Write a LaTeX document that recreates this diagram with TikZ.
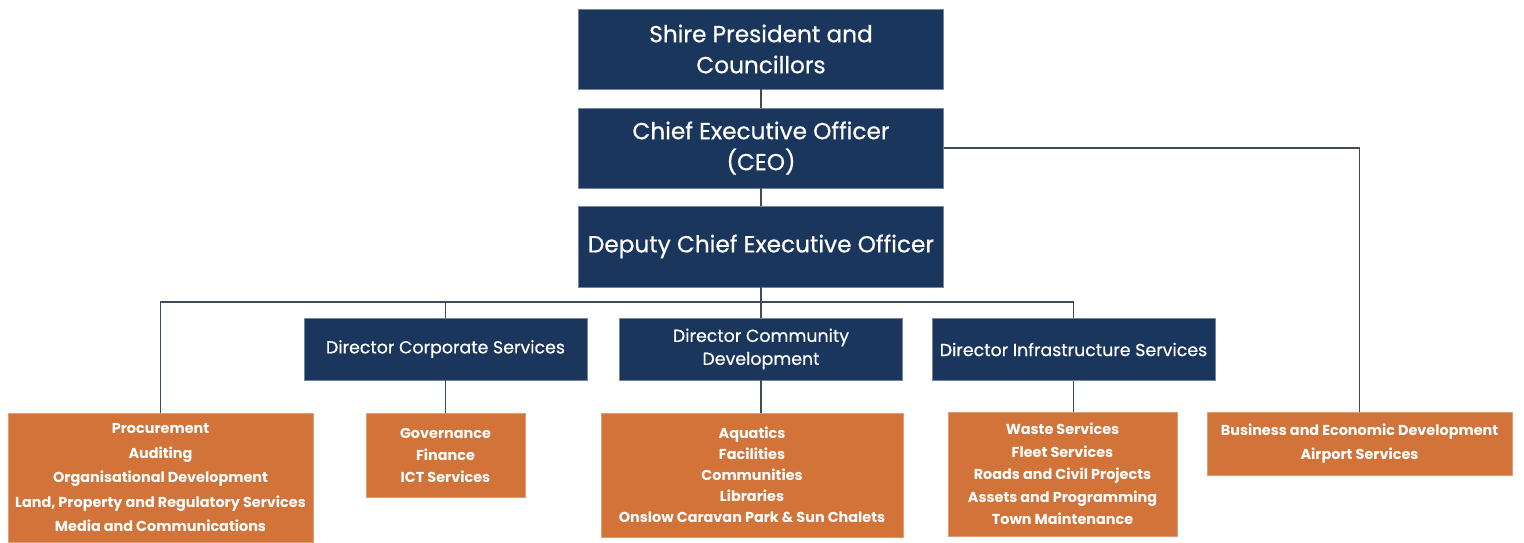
\documentclass[tikz,border=0pt]{standalone}
\usepackage{fontspec}
\setmainfont{Poppins}
\usetikzlibrary{positioning}
\definecolor{navy}{HTML}{1B365D}
\definecolor{rust}{HTML}{D2733A}
\definecolor{wire}{HTML}{3F4A5C}

\begin{document}
\begin{tikzpicture}[x=1pt, y=-1pt, semithick,
    box/.style={inner sep=0pt, text=white, align=center},
    head/.style={box, draw=navy!60!white, fill=navy, minimum width=365, minimum height=80, font=\addfontfeature{FakeBold=0.6}\fontsize{23.2}{31}\selectfont},
    dir/.style={box, draw=navy!60!white, fill=navy, minimum width=283, minimum height=62, font=\addfontfeature{FakeBold=0.5}\fontsize{17.4}{23}\selectfont},
    unit/.style={box, draw=rust!70!white, fill=rust, font=\bfseries\fontsize{14.4}{22}\selectfont},
    link/.style={draw=wire, line width=1.4pt}]
    \useasboundingbox (0,0) rectangle (1524,542);
    % top of the chart
    \node[head] (pres) at (761,49) {Shire President and\\Councillors};
    \node[head] (ceo) at (761,148) {Chief Executive Officer\\(CEO)};
    \node[head, minimum height=81] (dep) at (761,246.5) {Deputy Chief Executive Officer};
    \coordinate (bus) at (0,302);
    % directors
    \node[dir] (cor) at (445.5,349) {Director Corporate Services};
    \node[dir] (com) at (761,349) {Director Community\\Development};
    \node[dir] (inf) at (1073.5,349.5) {Director Infrastructure Services};
    % service units
    \node[unit, minimum width=305, minimum height=129, font=\bfseries\fontsize{14.4}{24.5}\selectfont] (proc) at (160.5,477.5)
        {Procurement\\Auditing\\Organisational Development\\Land, Property and Regulatory Services\\Media and Communications};
    \node[unit, minimum width=159, minimum height=84] (gov) at (445.5,455) {Governance\\Finance\\ICT Services};
    \node[unit, minimum width=302, minimum height=124, font=\bfseries\fontsize{14.4}{21}\selectfont] (aqu) at (752,475)
        {Aquatics\\Facilities\\Communities\\Libraries\\Onslow Caravan Park \& Sun Chalets};
    \node[unit, minimum width=229, minimum height=124, font=\bfseries\fontsize{14.4}{22.5}\selectfont] (wst) at (1062.5,474)
        {Waste Services\\Fleet Services\\Roads and Civil Projects\\Assets and Programming\\Town Maintenance};
    \node[unit, minimum width=305, minimum height=63, font=\bfseries\fontsize{14.4}{24}\selectfont] (biz) at (1359.5,443.5)
        {Business and Economic Development\\Airport Services};
    % connectors
    \draw[link] (pres) -- (ceo);
    \draw[link] (ceo) -- (dep);
    \draw[link] (dep) -- (com);
    \draw[link] (proc.north) |- (inf.north |- bus) -- (inf.north);
    \draw[link] (cor.north) -- (cor.north |- bus);
    \draw[link] (ceo.east) -| (biz.north);
    \draw[link] (cor) -- (gov);
    \draw[link] (com.south) -- (com.south |- aqu.north);
    \draw[link] (inf.south) -- (inf.south |- wst.north);
\end{tikzpicture}
\end{document}
